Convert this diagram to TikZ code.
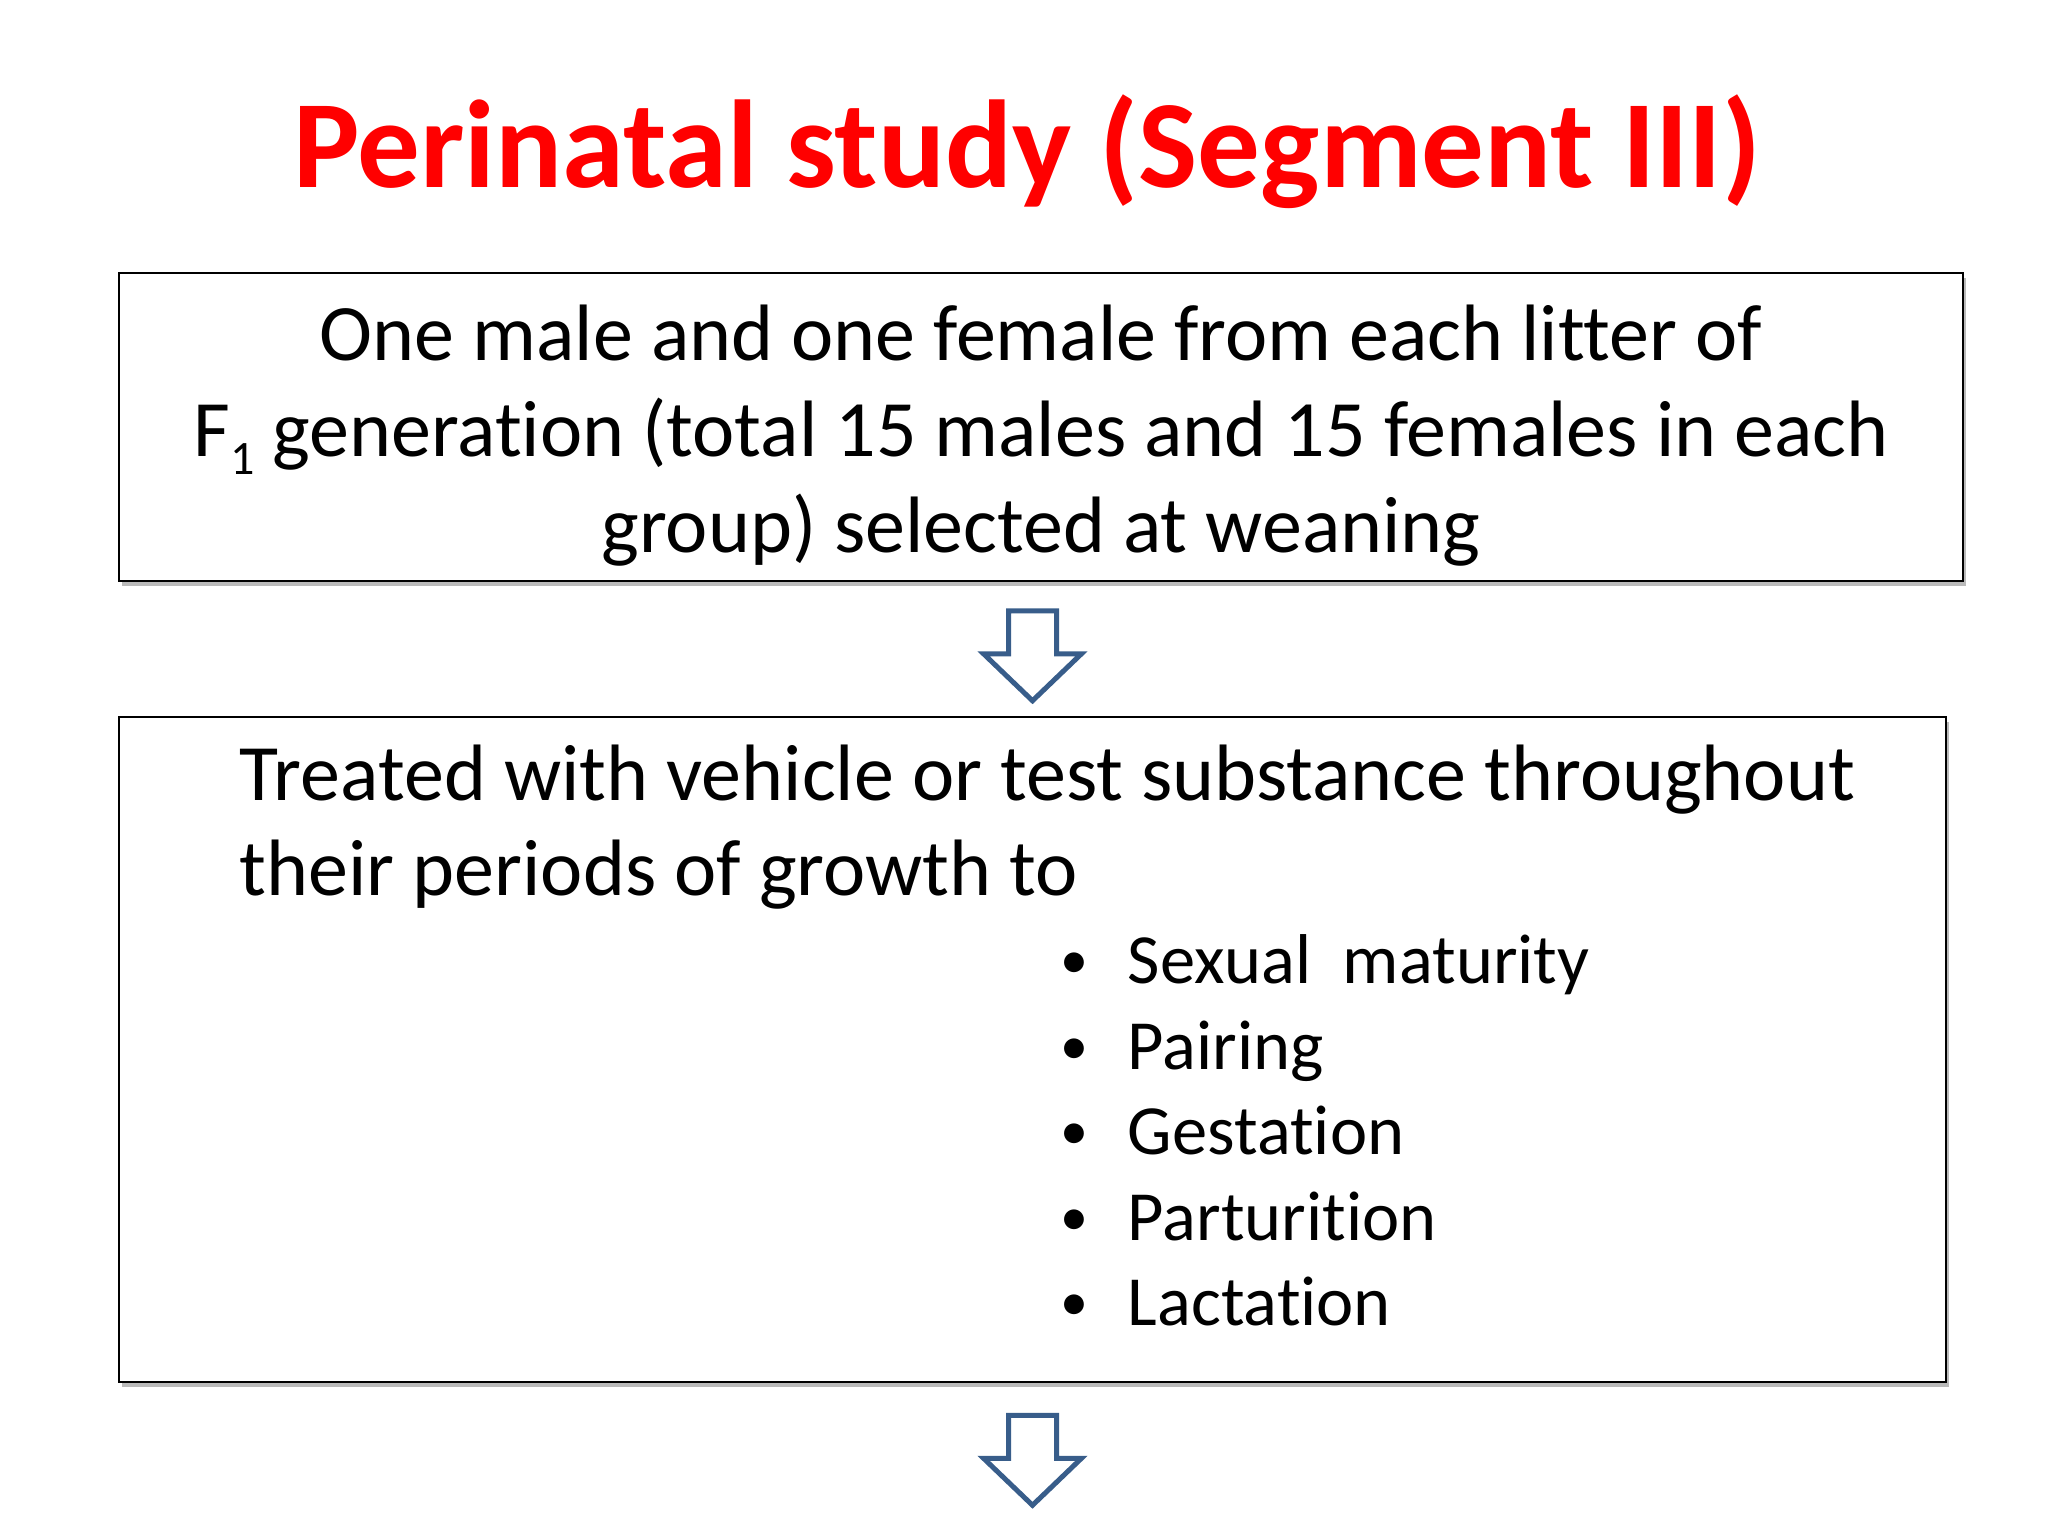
\documentclass[tikz,border=0pt]{standalone}
\usepackage{fontspec}
\setmainfont{Carlito}[Ligatures=NoCommon]
\usepackage{xcolor}
\usepackage{tikz}
\usetikzlibrary{positioning, calc, shadows}
\tikzset{
	stagebox/.style={draw=black, line width=2.5pt, fill=white, inner sep=0pt,
		drop shadow={shadow xshift=3pt, shadow yshift=-5pt, fill=black!45, opacity=0.6}},
	bodytext/.style={font=\fontsize{80}{96}\selectfont, inner sep=0pt},
	itemtext/.style={font=\fontsize{70.5}{85}\selectfont, inner sep=0pt},
	blockarrow/.pic={
		\draw[ArrowBlue, line width=5pt, fill=white, line join=miter]
			(-24,0) -- (24,0) -- (24,43) -- (49,43) -- (0,90) -- (-49,43) -- (-24,43) -- cycle;
	},
}
\definecolor{ArrowBlue}{RGB}{56, 93, 138}
\definecolor{TitleRed}{RGB}{255, 0, 0}
\newcommand{\stagebullet}{\makebox[108pt][c]{\raisebox{5pt}{\fontsize{56}{56}\selectfont •}}}

\begin{document}
\begin{tikzpicture}[x=1pt, y=-1pt]

\useasboundingbox (0,0) rectangle (2048,1536);

\node[font=\fontsize{125}{150}\selectfont\bfseries, text=TitleRed, anchor=base, inner sep=0pt] (title) at (1027,187) {Perinatal study (Segment III)};

\node[stagebox, bodytext, minimum width=1844pt, minimum height=308pt, align=center] (litter) at (1041,427) {\rule{0pt}{72pt}One male and one female from each litter of\\F\raisebox{-18pt}{\fontsize{48}{48}\selectfont 1} generation (total 15 males and 15 females in each\\group) selected at weaning};

\node[stagebox, minimum width=1827pt, minimum height=665pt] (treat) at (1032.5,1049.5) {};

\node[bodytext, anchor=base west] (treatline) at ([xshift=122pt, yshift=-85pt]treat.north west) {Treated with vehicle or test substance throughout};
\node[bodytext, anchor=base west] (growthline) at ([yshift=-95pt]treatline.base west) {their periods of growth to};

\foreach \stage [count=\i] in {Sexual\ \ maturity, Pairing, Gestation, Parturition, Lactation}
	\node[itemtext, anchor=base west] (stage\i) at ([xshift=780pt, yshift=-2.5pt-85.5pt*\i]growthline.base west) {\stagebullet\stage};

\path ([yshift=105pt]treat.north) pic {blockarrow};
\path ([yshift=-32pt]treat.south) pic {blockarrow};

\end{tikzpicture}
\end{document}
